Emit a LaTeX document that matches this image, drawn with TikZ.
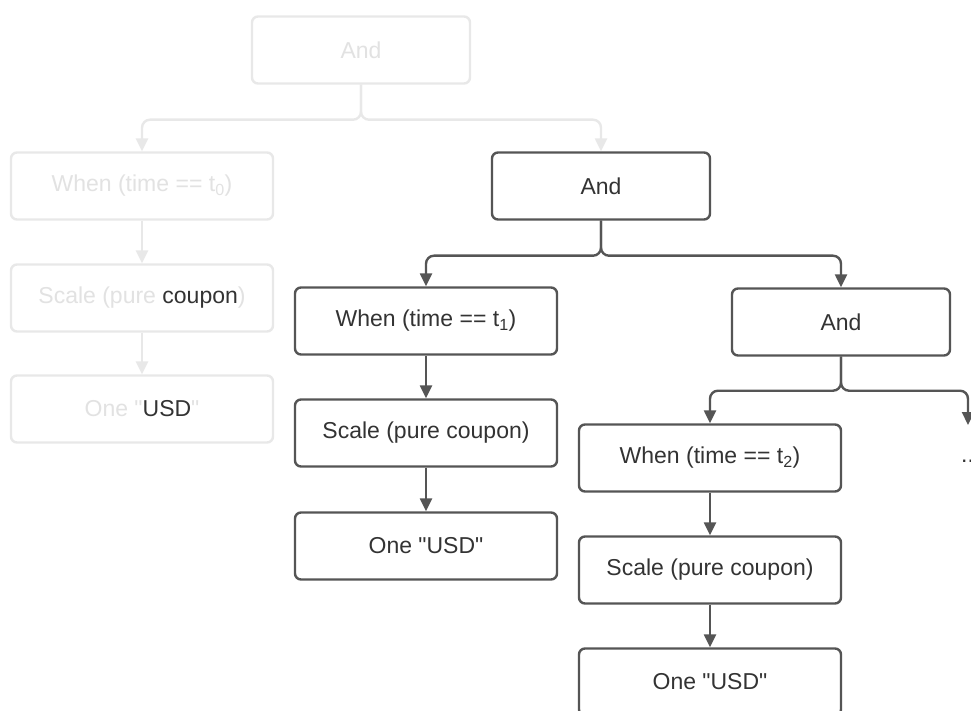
\documentclass[tikz,border=0pt]{standalone}
\usepackage{fontspec}
\setmainfont{Liberation Sans}[Ligatures=TeXOff]
\usetikzlibrary{arrows.meta}
\definecolor{dk}{HTML}{555555}
\definecolor{dtext}{HTML}{333333}
\definecolor{fd}{HTML}{E8E8E8}
\definecolor{ftext}{HTML}{E2E2E2}
\tikzset{
  box/.style={draw=dk, line width=2.4pt, rounded corners=6pt, minimum height=67pt,
    text=dtext, font=\fontsize{23}{27}\selectfont, inner sep=0pt, fill=white},
  wbox/.style={box, minimum width=262pt},
  abox/.style={box, minimum width=218pt},
  fwbox/.style={wbox, draw=fd, text=ftext},
  fabox/.style={abox, draw=fd, text=ftext},
  conn/.style={draw=dk, line width=2.4pt, -{Triangle[length=13pt,width=12pt]}, rounded corners=8pt},
  fconn/.style={conn, draw=fd}
}
\begin{document}
\begin{tikzpicture}[x=1pt,y=-1pt]
\useasboundingbox (0,0) rectangle (971,711);
\fill[white] (0,0) rectangle (971,711);
\clip (0,0) rectangle (971,711);
% faded part
\node[fabox] (a0) at (361,50) {And};
\node[fwbox] (w0) at (142,186) {When (time == t\textsubscript{0})};
\node[fwbox] (s0) at (142,298) {Scale (pure \textcolor{dtext}{coupon})};
\node[fwbox] (u0) at (142,409) {One "\textcolor{dtext}{USD}"};
% dark part
\node[abox] (a1) at (601,186) {And};
\node[wbox] (w1) at (426,321) {When (time == t\textsubscript{1})};
\node[wbox] (s1) at (426,433) {Scale (pure coupon)};
\node[wbox] (u1) at (426,546) {One "USD"};
\node[abox] (a2) at (841,322) {And};
\node[wbox] (w2) at (710,458) {When (time == t\textsubscript{2})};
\node[wbox] (s2) at (710,570) {Scale (pure coupon)};
\node[wbox] (u2) at (710,682) {One "USD"};
\coordinate (more) at (968,425);
\node[anchor=base west, text=dtext, font=\fontsize{23}{27}\selectfont, inner sep=0pt] (dots) at (961,462) {...};
% connectors
\draw[fconn] (a0.south) -- ++(0,35) -| (w0.north);
\draw[fconn] (a0.south) -- ++(0,35) -| (a1.north);
\draw[fconn] (w0) -- (s0);
\draw[fconn] (s0) -- (u0);
\draw[conn] (a1.south) -- ++(0,35) -| (w1.north);
\draw[conn] (a1.south) -- ++(0,35) -| (a2.north);
\draw[conn] (w1) -- (s1);
\draw[conn] (s1) -- (u1);
\draw[conn] (a2.south) -- ++(0,34) -| (w2.north);
\draw[conn] (a2.south) -- ++(0,34) -| (more);
\draw[conn] (w2) -- (s2);
\draw[conn] (s2) -- (u2);
\end{tikzpicture}
\end{document}
